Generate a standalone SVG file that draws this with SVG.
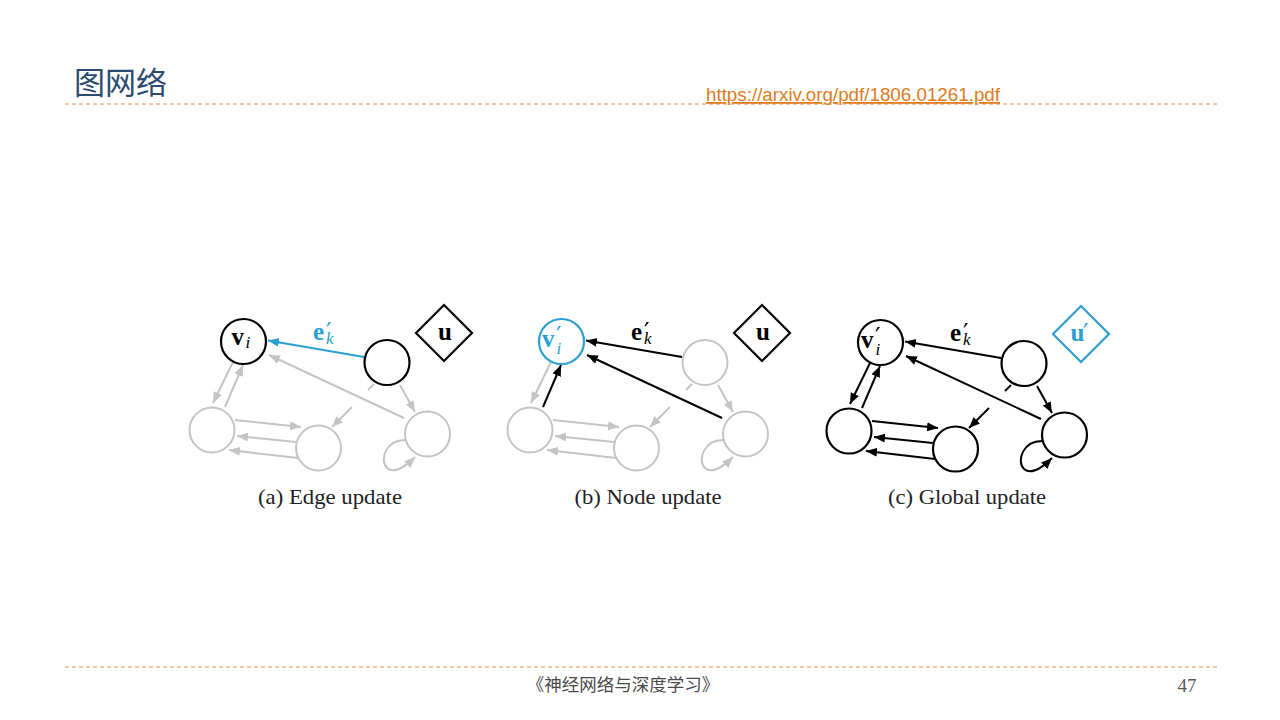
<svg xmlns="http://www.w3.org/2000/svg" width="1280" height="720" viewBox="0 0 1280 720">
<defs>
<marker id="ag" markerWidth="12" markerHeight="10" refX="11" refY="5" orient="auto" markerUnits="userSpaceOnUse"><path d="M0,0.5 L11,5 L0,9.5 Z" fill="#c4c4c4"/></marker>
<marker id="ak" markerWidth="12" markerHeight="10" refX="11" refY="5" orient="auto" markerUnits="userSpaceOnUse"><path d="M0,0.5 L11,5 L0,9.5 Z" fill="#000"/></marker>
<marker id="ab" markerWidth="12" markerHeight="10" refX="11" refY="5" orient="auto" markerUnits="userSpaceOnUse"><path d="M0,0.5 L11,5 L0,9.5 Z" fill="#2a9fd6"/></marker>
</defs>
<style>
.dash{stroke:#e0924a;stroke-width:1;stroke-dasharray:4 3;fill:none}
.ng{fill:#fff;stroke:#c4c4c4;stroke-width:2}
.nk{fill:#fff;stroke:#000;stroke-width:2.2}
.nb{fill:#fff;stroke:#2a9fd6;stroke-width:2.2}
.eg{stroke:#c4c4c4;stroke-width:2;fill:none}
.ek{stroke:#000;stroke-width:2;fill:none}
.eb{stroke:#2a9fd6;stroke-width:2.2;fill:none}
.g{marker-end:url(#ag)}
.k{marker-end:url(#ak)}
.b{marker-end:url(#ab)}
.m{font-family:"Liberation Serif","DejaVu Serif",serif}
.bold{font-weight:bold;font-size:25px}
.sub{font-style:italic;font-size:17px}
.pr{font-family:"DejaVu Sans",sans-serif;font-size:24px}
.cap{font-family:"Liberation Serif","DejaVu Serif",serif;font-size:21px;fill:#222}
</style>

<g id="header">
<text x="74" y="94" font-family="'Noto Sans CJK SC',sans-serif" font-size="31" fill="#2b4a70">图网络</text>
<line x1="65" y1="104" x2="1217" y2="104" class="dash"/>
<text x="706" y="101" font-family="'Liberation Sans',Arial,sans-serif" font-size="18" fill="#e07b20" textLength="294" lengthAdjust="spacingAndGlyphs" text-decoration="underline">https://arxiv.org/pdf/1806.01261.pdf</text>
</g>

<!-- Panel (a) -->
<g id="panel-a">
<g id="a-edges">
<line x1="364" y1="357" x2="268" y2="340.5" class="eb b"/>
<line x1="404" y1="418" x2="269" y2="355" class="eg g"/>
<line x1="233" y1="362" x2="213" y2="403" class="eg g"/>
<line x1="225" y1="407" x2="243" y2="365" class="eg g"/>
<line x1="235" y1="420" x2="301" y2="427" class="eg g"/>
<line x1="296" y1="442" x2="237" y2="436" class="eg g"/>
<line x1="298" y1="458" x2="229" y2="450" class="eg g"/>
<line x1="374" y1="384" x2="368" y2="390" class="eg"/>
<line x1="352" y1="407" x2="332" y2="427" class="eg g"/>
<line x1="400" y1="385" x2="415" y2="412" class="eg g"/>
<path d="M406.5,440 C386,439 379,460 387,468 C394,474 405,467 415,457" class="eg g"/>
</g>
<g id="a-vi"><circle cx="243.5" cy="341.5" r="22.5" class="nk"/><text class="m"><tspan class="bold" x="231.5" y="345">v</tspan><tspan class="sub" x="245.5" y="348">i</tspan></text></g>
<g id="a-t"><circle cx="387" cy="362.5" r="22.5" class="nk"/></g>
<g id="a-u"><path d="M444,305 L472,333 L444,361 L416,333 Z" class="nk"/><text class="m bold" x="445" y="340" text-anchor="middle">u</text></g>
<g id="a-bl"><circle cx="212" cy="430" r="22.5" class="ng"/></g>
<g id="a-bm"><circle cx="318.5" cy="448" r="22.5" class="ng"/></g>
<g id="a-br"><circle cx="427.5" cy="434" r="22.5" class="ng"/></g>
<g id="a-ek"><text class="m" fill="#2a9fd6"><tspan class="bold" x="313" y="340">e</tspan><tspan class="pr" x="326" y="340">′</tspan><tspan class="sub" x="326" y="344">k</tspan></text></g>
<text class="cap" x="330" y="504" text-anchor="middle" textLength="144" lengthAdjust="spacingAndGlyphs">(a) Edge update</text>
</g>

<!-- Panel (b) -->
<g id="panel-b" transform="translate(318,0)">
<g id="b-edges">
<line x1="364" y1="357" x2="268" y2="340.5" class="ek k"/>
<line x1="404" y1="418" x2="269" y2="355" class="ek k"/>
<line x1="233" y1="362" x2="213" y2="403" class="eg g"/>
<line x1="225" y1="407" x2="243" y2="365" class="ek k"/>
<line x1="235" y1="420" x2="301" y2="427" class="eg g"/>
<line x1="296" y1="442" x2="237" y2="436" class="eg g"/>
<line x1="298" y1="458" x2="229" y2="450" class="eg g"/>
<line x1="374" y1="384" x2="368" y2="390" class="eg"/>
<line x1="352" y1="407" x2="332" y2="427" class="eg g"/>
<line x1="400" y1="385" x2="415" y2="412" class="eg g"/>
<path d="M406.5,440 C386,439 379,460 387,468 C394,474 405,467 415,457" class="eg g"/>
</g>
<g id="b-vi"><circle cx="243.5" cy="341.5" r="22.5" class="nb"/><text class="m" fill="#2a9fd6"><tspan class="bold" x="224" y="346.5">v</tspan><tspan class="pr" x="238" y="344">′</tspan><tspan class="sub" x="238.5" y="354">i</tspan></text></g>
<g id="b-t"><circle cx="387" cy="362.5" r="22.5" class="ng"/></g>
<g id="b-u"><path d="M444,305 L472,333 L444,361 L416,333 Z" class="nk"/><text class="m bold" x="445" y="340" text-anchor="middle">u</text></g>
<g id="b-bl"><circle cx="212" cy="430" r="22.5" class="ng"/></g>
<g id="b-bm"><circle cx="318.5" cy="448" r="22.5" class="ng"/></g>
<g id="b-br"><circle cx="427.5" cy="434" r="22.5" class="ng"/></g>
<g id="b-ek"><text class="m"><tspan class="bold" x="313" y="340">e</tspan><tspan class="pr" x="326" y="340">′</tspan><tspan class="sub" x="326" y="344">k</tspan></text></g>
<text class="cap" x="330" y="504" text-anchor="middle" textLength="147" lengthAdjust="spacingAndGlyphs">(b) Node update</text>
</g>

<!-- Panel (c) -->
<g id="panel-c" transform="translate(637,1)">
<g id="c-edges">
<line x1="364" y1="357" x2="268" y2="340.5" class="ek k"/>
<line x1="404" y1="418" x2="269" y2="355" class="ek k"/>
<line x1="233" y1="362" x2="213" y2="403" class="ek k"/>
<line x1="225" y1="407" x2="243" y2="365" class="ek k"/>
<line x1="235" y1="420" x2="301" y2="427" class="ek k"/>
<line x1="296" y1="442" x2="237" y2="436" class="ek k"/>
<line x1="298" y1="458" x2="229" y2="450" class="ek k"/>
<line x1="374" y1="384" x2="368" y2="390" class="ek"/>
<line x1="352" y1="407" x2="332" y2="427" class="ek k"/>
<line x1="400" y1="385" x2="415" y2="412" class="ek k"/>
<path d="M406.5,440 C386,439 379,460 387,468 C394,474 405,467 415,457" class="ek k"/>
</g>
<g id="c-vi"><circle cx="243.5" cy="341.5" r="22.5" class="nk"/><text class="m"><tspan class="bold" x="224" y="346.5">v</tspan><tspan class="pr" x="238" y="344">′</tspan><tspan class="sub" x="238.5" y="354">i</tspan></text></g>
<g id="c-t"><circle cx="387" cy="362.5" r="22.5" class="nk"/></g>
<g id="c-u"><path d="M444,305 L472,333 L444,361 L416,333 Z" class="nb"/><text class="m" fill="#2a9fd6"><tspan class="bold" x="433.5" y="340">u</tspan><tspan class="pr" x="446" y="340">′</tspan></text></g>
<g id="c-bl"><circle cx="212" cy="430" r="22.5" class="nk"/></g>
<g id="c-bm"><circle cx="318.5" cy="448" r="22.5" class="nk"/></g>
<g id="c-br"><circle cx="427.5" cy="434" r="22.5" class="nk"/></g>
<g id="c-ek"><text class="m"><tspan class="bold" x="313" y="340">e</tspan><tspan class="pr" x="326" y="340">′</tspan><tspan class="sub" x="326" y="344">k</tspan></text></g>
<text class="cap" x="330" y="503" text-anchor="middle" textLength="158" lengthAdjust="spacingAndGlyphs">(c) Global update</text>
</g>

<g id="footer">
<line x1="65" y1="667" x2="1217" y2="667" class="dash"/>
<text x="623" y="691" text-anchor="middle" font-family="'Noto Sans CJK SC',sans-serif" font-size="17.5" fill="#4a4a4a">《神经网络与深度学习》</text>
<text x="1187" y="692" text-anchor="middle" font-family="'Liberation Serif',serif" font-size="19" fill="#595959">47</text>
</g>
</svg>
